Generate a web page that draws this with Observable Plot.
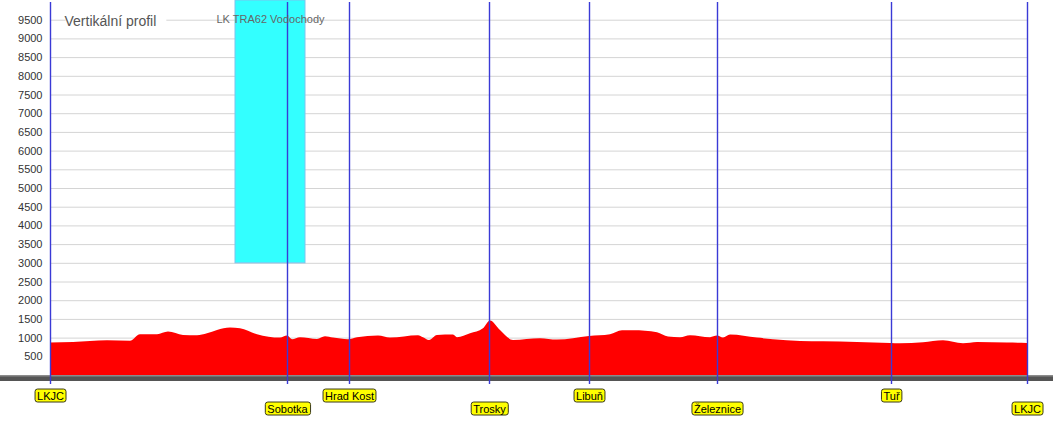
<!DOCTYPE html>
<html>
<head>
<meta charset="utf-8">
<script src="https://cdn.jsdelivr.net/npm/d3@7"></script>
<script src="https://cdn.jsdelivr.net/npm/@observablehq/plot@0.6"></script>
<style>
  html, body { margin: 0; padding: 0; background: #fff; overflow: hidden; }
  svg { display: block; }
</style>
</head>
<body>
<div id="chart"></div>
<script>
// ---- data ----
const chartTitle = "Vertikální profil";

const waypointNames = ["LKJC", "Sobotka", "Hrad Kost", "Trosky", "Libuň", "Železnice", "Tuř", "LKJC"];
const waypointKm = [0, 23.7, 29.9, 43.9, 53.9, 66.7, 84.1, 97.7];

const profileKm = [0, 2.3, 5.7, 8.0, 9.0, 10.7, 11.8, 13.3, 14.7, 15.7, 16.7, 18.0, 19.0, 20.7, 23.0, 23.7, 24.2, 25.0, 26.7, 27.5, 28.3, 29.8, 30.7, 32.8, 34.0, 36.8, 37.3, 37.9, 38.7, 40.3, 40.7, 42.0, 43.3, 44.0, 45.0, 46.3, 49.0, 50.7, 53.9, 56.0, 57.2, 58.3, 60.7, 61.8, 63.0, 64.0, 66.0, 66.7, 67.3, 68.0, 70.7, 72.3, 75.0, 77.3, 80.7, 84.0, 85.0, 87.3, 89.3, 91.3, 92.7, 95.7, 97.7];
const profileElev = [866, 884, 930, 919, 1091, 1091, 1160, 1072, 1064, 1118, 1206, 1268, 1252, 1091, 1000, 1053, 957, 1010, 965, 1037, 1000, 957, 1010, 1053, 1000, 1064, 1010, 938, 1072, 1080, 1010, 1118, 1252, 1460, 1206, 938, 983, 946, 1045, 1091, 1197, 1197, 1144, 1027, 1010, 1064, 1010, 1053, 1000, 1080, 1000, 957, 911, 903, 884, 857, 849, 876, 930, 849, 884, 866, 857];

const airspaceNames = ["LK TRA62 Vodochody"];
const airspaceFromKm = [18.5];
const airspaceToKm = [25.5];
const airspaceFloor = [3000];
const airspaceCeiling = [10000];

const yTicks = d3.range(500, 10000, 500);

// ---- tables ----
const profile = profileKm.map((km, i) => ({km, elev: profileElev[i]}));
const waypoints = waypointNames.map((name, i) => ({name, km: waypointKm[i], row: i % 2}));
const airspaces = airspaceNames.map((name, i) => ({
  name, x1: airspaceFromKm[i], x2: airspaceToKm[i], y1: airspaceFloor[i], y2: airspaceCeiling[i],
  xm: (airspaceFromKm[i] + airspaceToKm[i]) / 2
}));

// ground bar drawn across the full width at elevation 0
function groundBar(index, scales, values, dims) {
  const y0 = scales.y(0);
  const g = d3.create("svg:g");
  g.append("rect").attr("x", 0).attr("y", y0).attr("width", dims.width).attr("height", 6).attr("fill", "#555");
  g.append("rect").attr("x", 0).attr("y", y0).attr("width", dims.width).attr("height", 1.5).attr("fill", "#8c8c8c");
  return g.node();
}

const chart = Plot.plot({
  width: 1053,
  height: 425,
  marginLeft: 50,
  marginRight: 26,
  marginTop: 1,
  marginBottom: 50,
  style: {fontFamily: "'Liberation Sans', Arial, sans-serif", fontSize: "11px", background: "#fff"},
  x: {domain: [0, 97.7], axis: null},
  y: {domain: [0, 10000], axis: null},
  marks: [
    Plot.gridY(yTicks, {stroke: "#d4d4d4", strokeOpacity: 1}),
    Plot.rect(airspaces, {x1: "x1", x2: "x2", y1: "y1", y2: "y2", fill: "#33ffff", stroke: "#7cc4ee", strokeWidth: 1, insetTop: -1}),
    Plot.areaY(profile, {x: "km", y: "elev", fill: "#ff0000", curve: "monotone-x"}),
    groundBar,
    Plot.ruleX(waypoints, {x: "km", y1: 10000, y2: 0, stroke: "#3a3ad6", strokeOpacity: 1, strokeWidth: 1.4, insetTop: 1, insetBottom: -9}),
    Plot.text(airspaces, {x: "xm", text: "name", frameAnchor: "top", dy: 18, lineAnchor: "middle", fill: "#666", fontSize: 11}),
    Plot.text(waypoints.filter(d => d.row === 0), {x: "km", text: "name", frameAnchor: "bottom", dy: 20.5, lineAnchor: "middle", fill: "#000", fontSize: 11}),
    Plot.text(waypoints.filter(d => d.row === 1), {x: "km", text: "name", frameAnchor: "bottom", dy: 33.5, lineAnchor: "middle", fill: "#000", fontSize: 11}),
    Plot.axisY(yTicks, {tickSize: 0, tickPadding: 8, label: null, fill: "#333", fontSize: 11, tickFormat: d => String(d)}),
    Plot.text([chartTitle], {frameAnchor: "top-left", dx: 14, dy: 20, lineAnchor: "middle", textAnchor: "start", fill: "#555", fontSize: 14})
  ]
});

document.getElementById("chart").appendChild(chart);

// yellow boxes behind waypoint labels, white box behind title
const names = new Set(waypointNames);
d3.select(chart).selectAll("text").each(function() {
  const t = this.textContent;
  const tr = this.getAttribute("transform");
  if (names.has(t)) {
    const b = this.getBBox();
    const r = d3.select(this.parentNode).insert("rect", () => this)
      .attr("x", b.x - 2).attr("y", b.y - 0.5)
      .attr("width", b.width + 4).attr("height", b.height + 1)
      .attr("rx", 2.5).attr("ry", 2.5)
      .attr("fill", "#ffff00").attr("stroke", "#3a3a1a").attr("stroke-width", 1);
    if (tr) r.attr("transform", tr);
  } else if (t === chartTitle) {
    const b = this.getBBox();
    const m = tr ? /translate\(([-\d.]+),\s*([-\d.]+)\)/.exec(tr) : null;
    const tx = m ? +m[1] : 0, ty = m ? +m[2] : 0;
    d3.select(this.parentNode).insert("rect", () => this)
      .attr("x", 51).attr("y", b.y + ty)
      .attr("width", b.x + tx + b.width + 10 - 51).attr("height", b.height)
      .attr("fill", "#fff");
  }
});
</script>
</body>
</html>
